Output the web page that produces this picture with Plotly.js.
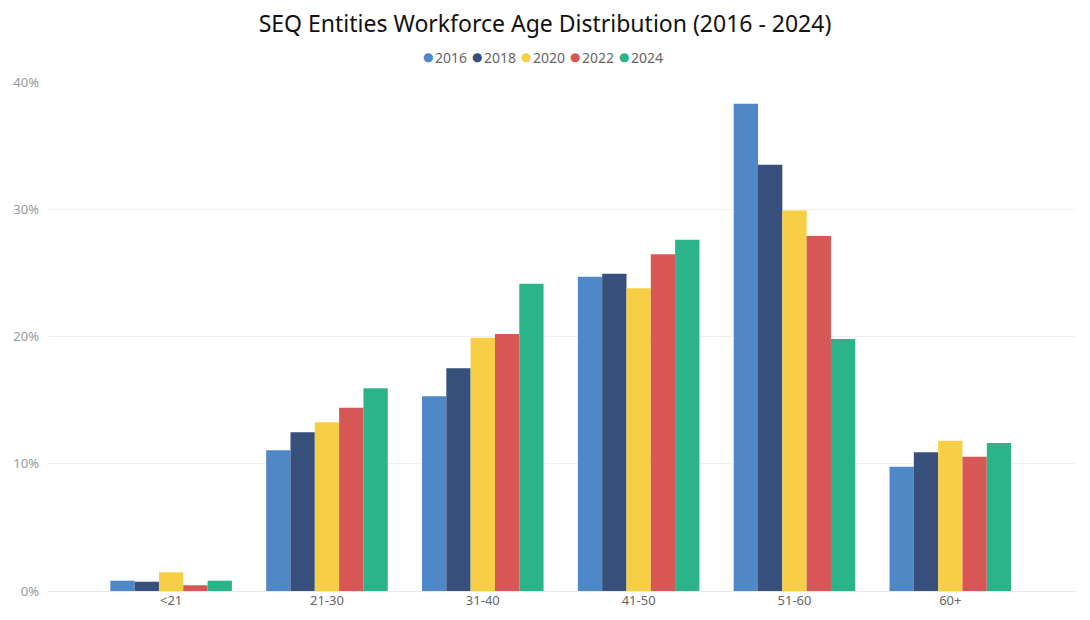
<!DOCTYPE html>
<html>
<head>
<meta charset="utf-8">
<script src="https://cdn.plot.ly/plotly-3.0.1.min.js"></script>
<style>html,body{margin:0;padding:0;background:#fff;}#chart{width:1090px;height:620px;}</style>
</head>
<body>
<div id="chart"></div>
<script>
const categories = ['<21', '21-30', '31-40', '41-50', '51-60', '60+'];
const years = ['2016', '2018', '2020', '2022', '2024'];
const v2016 = [0.81, 11.06, 15.3, 24.7, 38.3, 9.77];
const v2018 = [0.73, 12.47, 17.5, 24.93, 33.5, 10.9];
const v2020 = [1.47, 13.26, 19.9, 23.8, 29.9, 11.8];
const v2022 = [0.45, 14.4, 20.2, 26.46, 27.9, 10.55];
const v2024 = [0.81, 15.93, 24.15, 27.6, 19.8, 11.63];
const yTicks = [0, 10, 20, 30, 40];
const yTickText = ['0%', '10%', '20%', '30%', '40%'];

const series = [v2016, v2018, v2020, v2022, v2024];
const colors = ['#4E88C7', '#374F7B', '#F6CF45', '#D65755', '#2BB389'];

const traces = series.map((vals, i) => ({
  type: 'bar',
  name: years[i],
  x: categories,
  y: vals,
  marker: {color: colors[i]},
  hovertemplate: '%{x}: %{y}%<extra>' + years[i] + '</extra>'
}));

// custom legend (circle markers + labels) placed above the plot
const plotL = 48, plotW = 1027;
const legStart = 428, legStep = 49;
const annotations = [];
years.forEach((y, i) => {
  const cx = legStart + i * legStep;
  annotations.push({
    xref: 'paper', yref: 'paper',
    x: (cx - plotL) / plotW, y: 1.049,
    xanchor: 'center', yanchor: 'middle',
    showarrow: false,
    text: '●',
    font: {size: 12, color: colors[i], family: 'DejaVu Sans'}
  });
  annotations.push({
    xref: 'paper', yref: 'paper',
    x: (cx + 5 - plotL) / plotW, y: 1.049,
    xanchor: 'left', yanchor: 'middle',
    showarrow: false,
    text: y,
    font: {size: 14, color: '#666'}
  });
});

const layout = {
  width: 1090,
  height: 620,
  margin: {l: 48, r: 15, t: 82, b: 29},
  paper_bgcolor: '#ffffff',
  plot_bgcolor: '#ffffff',
  font: {family: '"Noto Sans", "Open Sans", sans-serif', color: '#666'},
  title: {
    text: 'SEQ Entities Workforce Age Distribution (2016 - 2024)',
    font: {size: 23, color: '#111', family: '"Noto Sans", "Open Sans", sans-serif'},
    x: 0.5, xanchor: 'center', y: 0.962, yanchor: 'middle'
  },
  showlegend: false,
  barmode: 'group',
  bargap: 0.22,
  bargroupgap: 0,
  xaxis: {
    type: 'category',
    range: [-0.79, 5.8],
    showgrid: false,
    showline: false,
    ticks: '',
    tickfont: {size: 13, color: '#666'},
    fixedrange: true
  },
  yaxis: {
    range: [0, 40],
    tickmode: 'array',
    tickvals: yTicks,
    ticktext: yTickText,
    showgrid: true,
    gridcolor: '#f0f0f0',
    gridwidth: 1,
    zeroline: true,
    zerolinecolor: '#e8e8e8',
    zerolinewidth: 1,
    showline: false,
    ticks: '',
    ticklabelstandoff: 8,
    tickfont: {size: 13, color: '#999'},
    fixedrange: true
  },
  annotations: annotations
};

Plotly.newPlot('chart', traces, layout, {displayModeBar: false, responsive: false});
</script>
</body>
</html>
